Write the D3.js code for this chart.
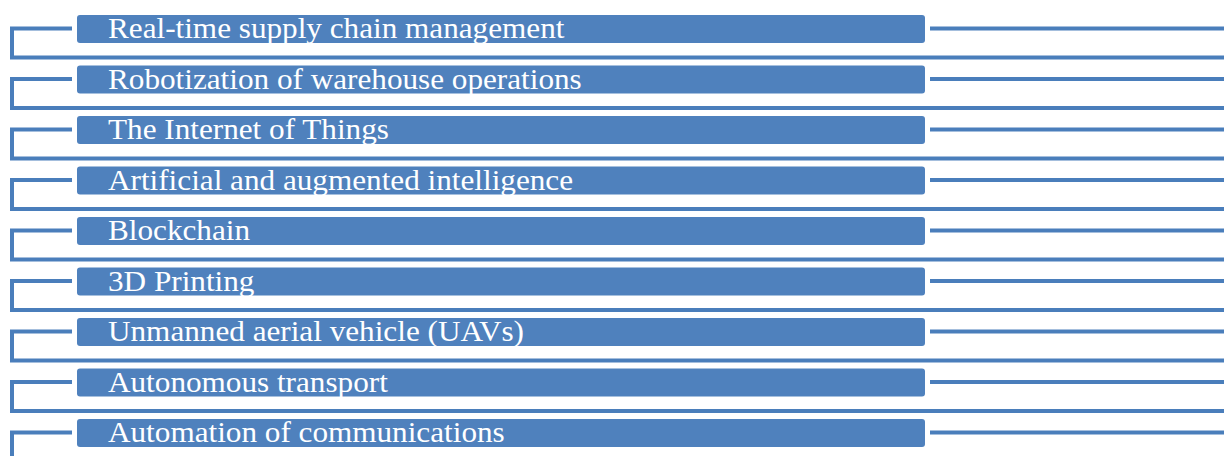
<!DOCTYPE html>
<html lang="en">
<head>
<meta charset="UTF-8">
<title>Supply chain technologies</title>
<script src="https://d3js.org/d3.v7.min.js"></script>
<style>
    body {margin: 0; background: #fff}
    text {font-family: 'Liberation Serif', 'Times New Roman', serif; white-space: pre}
</style>
</head>
<body>
<script>
    const width  = 1224;
    const height = 456;

    const items = [
        "Real-time supply chain management",
        "Robotization of warehouse operations",
        "The Internet of Things",
        "Artificial and augmented intelligence",
        "Blockchain",
        "3D Printing",
        "Unmanned aerial vehicle (UAVs)",
        "Autonomous transport",
        "Automation of communications"
    ];

    const blue = "#4f81bd";
    const lineBlue = "#4a7ebb";

    // row bands
    const y = d3.scaleBand()
        .domain(d3.range(items.length))
        .range([15, 15 + 50.5 * items.length]);

    const barH = 28;

    const svg = d3.select("body")
        .append("svg")
        .attr("width", width)
        .attr("height", height);

    const rows = svg.selectAll("g.row")
        .data(items)
        .enter()
        .append("g")
        .attr("class", "row")
        .attr("transform", (d, i) => `translate(0,${y(i)})`);

    // left bracket + bottom rule
    rows.append("path")
        .attr("d", `M72,13.5 H12 V42.5 H${width}`)
        .attr("fill", "none")
        .attr("stroke", lineBlue)
        .attr("stroke-width", 4);

    rows.append("line")
        .attr("x1", 930).attr("x2", width)
        .attr("y1", 13.5).attr("y2", 13.5)
        .attr("stroke", lineBlue)
        .attr("stroke-width", 4);

    rows.append("rect")
        .attr("x", 77)
        .attr("y", 0)
        .attr("width", 848)
        .attr("height", barH)
        .attr("rx", 3)
        .attr("fill", blue);

    // text in the original is slightly stretched sideways
    rows.append("text")
        .attr("transform", "translate(108,23) scale(1.04,1)")
        .attr("fill", "#fff")
        .style("font-size", "30px")
        .text(d => d);
</script>
</body>
</html>
